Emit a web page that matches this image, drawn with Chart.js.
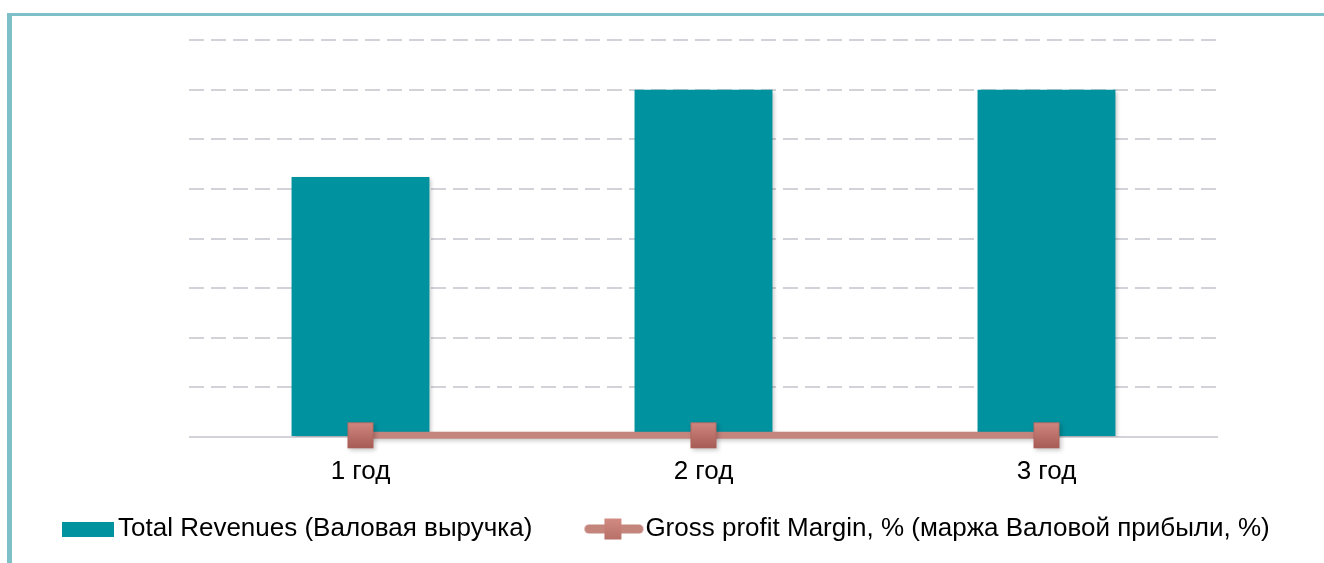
<!DOCTYPE html>
<html>
<head>
<meta charset="utf-8">
<script src="https://cdn.jsdelivr.net/npm/chart.js@4.4.1/dist/chart.umd.min.js"></script>
<style>
html,body{margin:0;padding:0;background:#fff;}
#wrap{position:relative;width:1324px;height:563px;overflow:hidden;background:#fff;}
#c{position:absolute;left:0;top:0;}
#frame{position:absolute;left:7px;top:13px;width:1400px;height:700px;border-top:3px solid #7EC0C8;border-left:5px solid #7EC0C8;box-sizing:border-box;pointer-events:none;}
</style>
</head>
<body>
<div id="wrap"><canvas id="c" width="1324" height="563"></canvas><div id="frame"></div></div>
<script>
// ---- data ----
const categories = ['1 год', '2 год', '3 год'];
const revenueLabel = 'Total Revenues (Валовая выручка)';
const marginLabel = 'Gross profit Margin, % (маржа Валовой прибыли, %)';
const totalRevenues = [5.24, 7.0, 7.0];
const grossMargin = [0.035, 0.035, 0.035];
const yTicks = [0, 1, 2, 3, 4, 5, 6, 7, 8];

// ---- styles ----
const BAR_COLOR = '#00929F';
const LINE_COLOR = '#C4857D';
const FONT = 'Liberation Sans';
const FS = 26;
const BOXW = 90;      // legend pointStyleWidth
const LPAD = 10;      // legend padding

function markerCanvas(w, h) {
  const c = document.createElement('canvas');
  c.width = w + 2; c.height = h + 2;
  const g = c.getContext('2d');
  const grad = g.createLinearGradient(0, 1, 0, h + 1);
  grad.addColorStop(0, '#D0877F');
  grad.addColorStop(1, '#A65C55');
  g.fillStyle = grad;
  g.fillRect(1, 1, w, h);
  g.strokeStyle = 'rgba(170,95,88,0.6)';
  g.lineWidth = 1;
  g.strokeRect(1.5, 1.5, w - 1, h - 1);
  return c;
}
const pointImg = markerCanvas(26, 26);

// legend symbol images (drawn centered at item.x + BOXW/2)
function legendBarImg() {
  const I = 180, H = 30;
  const c = document.createElement('canvas');
  c.width = I; c.height = H;
  const g = c.getContext('2d');
  const right = I / 2 + BOXW / 2 + FS / 2 - 4;
  g.fillStyle = BAR_COLOR;
  g.fillRect(right - 52, H / 2 - 7, 52, 15);
  return c;
}
function legendLineImg() {
  const I = 180, H = 30;
  const c = document.createElement('canvas');
  c.width = I; c.height = H;
  const g = c.getContext('2d');
  const right = I / 2 + BOXW / 2 + FS / 2 - 2;
  const left = right - 59;
  g.strokeStyle = LINE_COLOR;
  g.lineWidth = 9;
  g.lineCap = 'round';
  g.beginPath();
  g.moveTo(left + 4.5, H / 2);
  g.lineTo(right - 4.5, H / 2);
  g.stroke();
  const mx = left + 20, mw = 17, mh = 21;
  const grad = g.createLinearGradient(0, H / 2 - mh / 2, 0, H / 2 + mh / 2);
  grad.addColorStop(0, '#D28B83');
  grad.addColorStop(1, '#B87068');
  g.fillStyle = grad;
  g.fillRect(mx, H / 2 - mh / 2, mw, mh);
  return c;
}
const legImgs = [legendBarImg(), legendLineImg()];

const shadowPlugin = {
  id: 'shadow',
  beforeDatasetDraw(chart, args) {
    const ctx = chart.ctx;
    ctx.save();
    ctx.shadowColor = 'rgba(0,0,0,0.22)';
    ctx.shadowBlur = 4;
    ctx.shadowOffsetX = 2;
    ctx.shadowOffsetY = 2;
  },
  afterDatasetDraw(chart) {
    chart.ctx.restore();
  }
};

Chart.defaults.font.family = FONT;
Chart.defaults.color = '#000';

new Chart(document.getElementById('c'), {
  type: 'bar',
  data: {
    labels: categories,
    datasets: [
      {
        type: 'bar',
        label: revenueLabel,
        data: totalRevenues,
        backgroundColor: BAR_COLOR,
        borderWidth: 0,
        categoryPercentage: 1,
        barPercentage: 0.402,
        order: 2
      },
      {
        type: 'line',
        label: marginLabel,
        data: grossMargin,
        borderColor: LINE_COLOR,
        borderWidth: 7,
        pointStyle: pointImg,
        pointRadius: 13,
        pointHoverRadius: 13,
        tension: 0,
        clip: false,
        order: 1
      }
    ]
  },
  options: {
    responsive: false,
    devicePixelRatio: 1,
    animation: false,
    layout: { padding: { top: 40, bottom: 11, left: 5, right: 0 } },
    scales: {
      x: {
        grid: { display: false, drawTicks: false },
        border: { display: false },
        ticks: { font: { size: FS }, color: '#000', padding: 19 },
        afterFit: s => { s.height = 69; }
      },
      y: {
        min: yTicks[0],
        max: yTicks[yTicks.length - 1],
        afterBuildTicks: s => { s.ticks = yTicks.map(v => ({ value: v })); },
        ticks: { display: false },
        grid: {
          color: '#D2D2D9',
          lineWidth: 2,
          drawTicks: false
        },
        border: {
          display: false,
          dash: ctx => (ctx.tick && ctx.tick.value === 0) ? [] : [15, 7]
        },
        afterFit: s => { s.width = 184; }
      },
      y2: {
        position: 'right',
        display: true,
        ticks: { display: false },
        grid: { display: false, drawTicks: false },
        border: { display: false },
        afterFit: s => { s.width = 106; }
      }
    },
    plugins: {
      tooltip: { enabled: false },
      legend: {
        position: 'bottom',
        align: 'start',
        labels: {
          usePointStyle: true,
          pointStyleWidth: BOXW,
          padding: LPAD,
          color: '#000',
          font: { size: FS },
          generateLabels: chart => chart.data.datasets.map((ds, i) => ({
            text: ds.label,
            pointStyle: legImgs[i],
            fillStyle: 'transparent',
            strokeStyle: 'transparent',
            lineWidth: 0,
            hidden: false,
            fontColor: '#000',
            datasetIndex: i
          }))
        }
      }
    }
  },
  plugins: [shadowPlugin]
});
</script>
</body>
</html>
